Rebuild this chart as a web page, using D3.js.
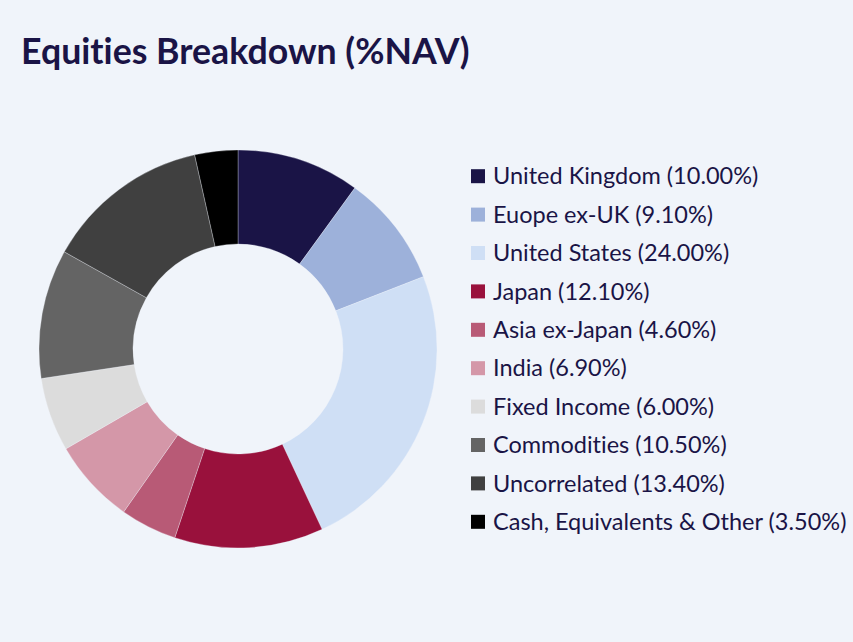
<!DOCTYPE html>
<html lang="en">
<head>
    <meta charset="utf-8">
    <title>Equities Breakdown</title>
    <style>
        html, body {
            margin: 0;
            padding: 0;
            background-color: #f0f4fa;
        }
        svg text {
            font-family: Lato, 'Noto Sans', sans-serif;
            font-variant-ligatures: none;
            fill: #1a1446;
        }
        .title {
            font-size: 35.7px;
            font-weight: bold;
        }
        .legend text {
            font-size: 23.5px;
        }
    </style>
    <script src="https://d3js.org/d3.v7.min.js" charset="utf-8"></script>
</head>
<body>
    <svg id="chart" width="853" height="642"></svg>

    <script type="text/javascript">
    // slice data, clockwise from 12 o'clock
    var categories = [
        "United Kingdom",
        "Euope ex-UK",
        "United States",
        "Japan",
        "Asia ex-Japan",
        "India",
        "Fixed Income",
        "Commodities",
        "Uncorrelated",
        "Cash, Equivalents & Other"
    ];
    var values = [10.0, 9.1, 24.0, 12.1, 4.6, 6.9, 6.0, 10.5, 13.4, 3.5];
    var colours = [
        "#1a1446", "#9db1da", "#cfdff5", "#99113c", "#b85a76",
        "#d497a8", "#dcdcdc", "#646464", "#404040", "#000000"
    ];

    var svg = d3.select("#chart");

    svg.append("text")
        .attr("class", "title")
        .attr("x", 21)
        .attr("y", 64)
        .text("Equities Breakdown (%NAV)");

    var rows = categories.map(function (c, i) {
        return { name: c, value: values[i], colour: colours[i] };
    });

    var pie = d3.pie()
        .sort(null)
        .value(function (d) { return d.value; });

    var arc = d3.arc()
        .innerRadius(105)
        .outerRadius(199);

    var donut = svg.append("g")
        .attr("transform", "translate(238,349)");

    donut.selectAll("path")
        .data(pie(rows))
        .join("path")
        .attr("d", arc)
        .attr("fill", function (d) { return d.data.colour; })
        .attr("stroke", "#f0f4fa")
        .attr("stroke-width", 0.3);

    // legend
    var y = d3.scaleBand()
        .domain(categories)
        .range([157, 541]);

    var legend = svg.append("g")
        .attr("class", "legend");

    var item = legend.selectAll("g")
        .data(rows)
        .join("g")
        .attr("transform", function (d) {
            return "translate(471," + (y(d.name) + y.bandwidth() / 2) + ")";
        });

    item.append("rect")
        .attr("x", 0)
        .attr("y", -7)
        .attr("width", 14)
        .attr("height", 14)
        .attr("fill", function (d) { return d.colour; });

    item.append("text")
        .attr("x", 22)
        .attr("dy", "0.35em")
        .text(function (d) { return d.name + " (" + d.value.toFixed(2) + "%)"; });
    </script>
</body>
</html>
